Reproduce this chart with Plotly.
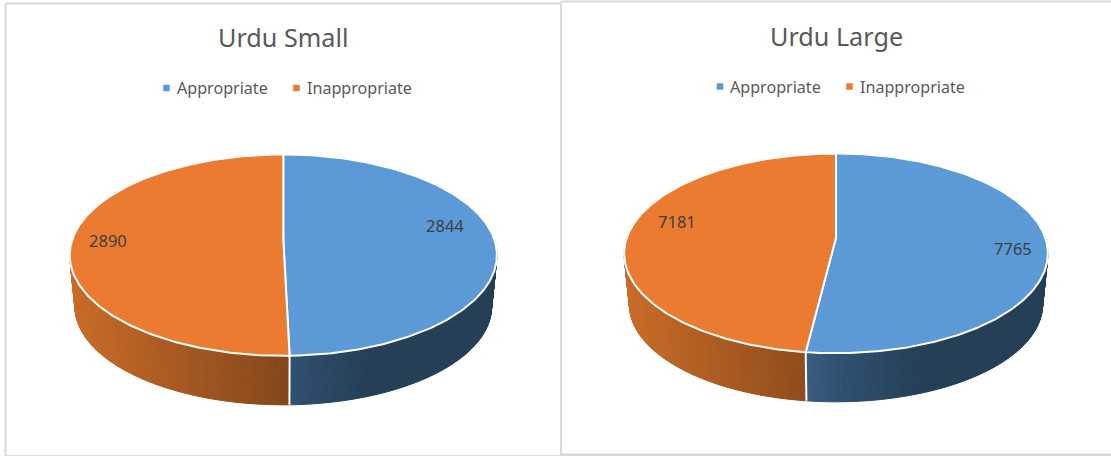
import numpy as np
import plotly.graph_objects as go

# Chart data
titles = ["Urdu Small", "Urdu Large"]
categories = ["Appropriate", "Inappropriate"]
small_values = [2844, 2890]
large_values = [7765, 7181]

# Colours
TOP_COLORS = ["#5B9AD6", "#EA7B30"]
TEXT_TITLE = "#595959"
TEXT_LABEL = "#404040"
BORDER = "#D9D9D9"
FONT = "Noto Sans"

# Perspective of the tilted disc: k sets how much closer the front rim appears
K = 0.156
DEPTH_SCALE = 0.975

# Placement of each pie, in figure pixels
PANELS = [
    dict(values=small_values, cx=283.3, apex=239.4, bx=211.0, ay=98.2, drop=52.0,
         title_xy=(283, 37), legend_y=88, swatch_x=(166.5, 296.5), text_x=(177, 307),
         label_xy=[(445, 225.5), (107.5, 240.5)]),
    dict(values=large_values, cx=836.0, apex=237.8, bx=209.3, ay=97.4, drop=51.5,
         title_xy=(836, 36), legend_y=86.5, swatch_x=(720, 849.5), text_x=(730, 859.5),
         label_xy=[(1012.5, 248.5), (677, 221.5)]),
]

# Side-wall shading as a function of horizontal position across the disc
ORANGE_T = [-1.0, 0.03]
ORANGE_RGB = [(201, 108, 39), (132, 70, 27)]
BLUE_T = [-0.15, 0.03, 0.40, 1.0]
BLUE_RGB = [(58, 92, 128), (48, 80, 112), (36, 63, 86), (36, 63, 86)]


def shade(t, stops, rgb):
    return "rgb({},{},{})".format(
        *[int(round(np.interp(t, stops, [c[i] for c in rgb]))) for i in range(3)]
    )


def rim(theta, p, scale=1.0, drop=0.0):
    """Project clockwise-from-top disc angles (radians) to figure pixels."""
    u, v = np.sin(theta), np.cos(theta)
    w = 1 + K * v
    return p["cx"] + scale * p["bx"] * u / w, p["apex"] + drop - scale * p["ay"] * v / w


fig = go.Figure()


def add_poly(xs, ys, fill, line_color, line_width):
    fig.add_trace(go.Scatter(
        x=xs, y=ys, mode="lines", fill="toself", fillcolor=fill,
        line=dict(color=line_color, width=line_width), hoverinfo="skip", showlegend=False,
    ))


def add_wall(p, start, end, stops, rgb, step=np.radians(0.8)):
    # Thin quads between the upper and lower rims, drawn from the back towards the viewer
    n = max(2, int(abs(end - start) / step))
    edges = np.linspace(start, end, n + 1)
    for a, b in zip(edges[:-1], edges[1:]):
        xa, ya = rim(np.array([a, b]), p)
        xb, yb = rim(np.array([b, a]), p, DEPTH_SCALE, p["drop"])
        t = (xa.mean() - p["cx"]) / (p["bx"] * 1.012)
        color = shade(t, stops, rgb)
        add_poly(list(xa) + list(xb) + [xa[0]], list(ya) + list(yb) + [ya[0]], color, color, 1)


for p in PANELS:
    total = sum(p["values"])
    split = 2 * np.pi * p["values"][0] / total

    # Side walls of the cylinder, split where the slices meet
    add_wall(p, np.radians(55), split, BLUE_T, BLUE_RGB)
    add_wall(p, np.radians(305), split, ORANGE_T, ORANGE_RGB)

    # White seam down the wall
    sx0, sy0 = rim(np.array([split]), p)
    sx1, sy1 = rim(np.array([split]), p, DEPTH_SCALE, p["drop"])
    fig.add_trace(go.Scatter(
        x=[sx0[0], sx1[0]], y=[sy0[0], sy1[0]], mode="lines",
        line=dict(color="white", width=2), hoverinfo="skip", showlegend=False,
    ))

    # Top face: one wedge per category
    starts = [0.0, split]
    ends = [split, 2 * np.pi]
    for a, b, color in zip(starts, ends, TOP_COLORS):
        th = np.linspace(a, b, 240)
        x, y = rim(th, p)
        add_poly([p["cx"]] + list(x) + [p["cx"]], [p["apex"]] + list(y) + [p["apex"]],
                 color, "white", 2)

    # Key: square swatches with their captions
    for name, color, sx, tx in zip(categories, TOP_COLORS, p["swatch_x"], p["text_x"]):
        fig.add_trace(go.Scatter(
            x=[sx], y=[p["legend_y"]], mode="markers",
            marker=dict(symbol="square", size=6.5, color=color),
            hoverinfo="skip", showlegend=False,
        ))
        fig.add_annotation(x=tx, y=p["legend_y"], text=name, showarrow=False, xanchor="left",
                           yanchor="middle", xshift=-2, font=dict(family=FONT, size=16.1, color=TEXT_TITLE))

    # Slice values
    for value, (lx, ly) in zip(p["values"], p["label_xy"]):
        fig.add_annotation(x=lx, y=ly, text=str(value), showarrow=False,
                           font=dict(family=FONT, size=16.5, color=TEXT_LABEL))

for name, p in zip(titles, PANELS):
    fig.add_annotation(x=p["title_xy"][0], y=p["title_xy"][1], text=name, showarrow=False,
                       font=dict(family=FONT, size=25.2, color=TEXT_TITLE))

# Thin frames around the two charts
frame_lines = [
    (5.5, 3.5, 560, 3.5, 2), (5.5, 3.5, 5.5, 456, 2), (5.5, 455.5, 560, 455.5, 1),
    (561, 1.5, 1111, 1.5, 2), (561, 1.5, 561, 456, 2), (561, 455, 1111, 455, 3),
]
for x0, y0, x1, y1, w in frame_lines:
    fig.add_shape(type="line", x0=x0, y0=y0, x1=x1, y1=y1, layer="below",
                  line=dict(color=BORDER, width=w))

fig.update_layout(
    width=1111, height=456, margin=dict(l=0, r=0, t=0, b=0),
    paper_bgcolor="white", plot_bgcolor="white", showlegend=False,
    xaxis=dict(range=[0, 1111], visible=False, fixedrange=True),
    yaxis=dict(range=[456, 0], visible=False, fixedrange=True),
)

fig.write_html("out.html", config=dict(displayModeBar=False))
